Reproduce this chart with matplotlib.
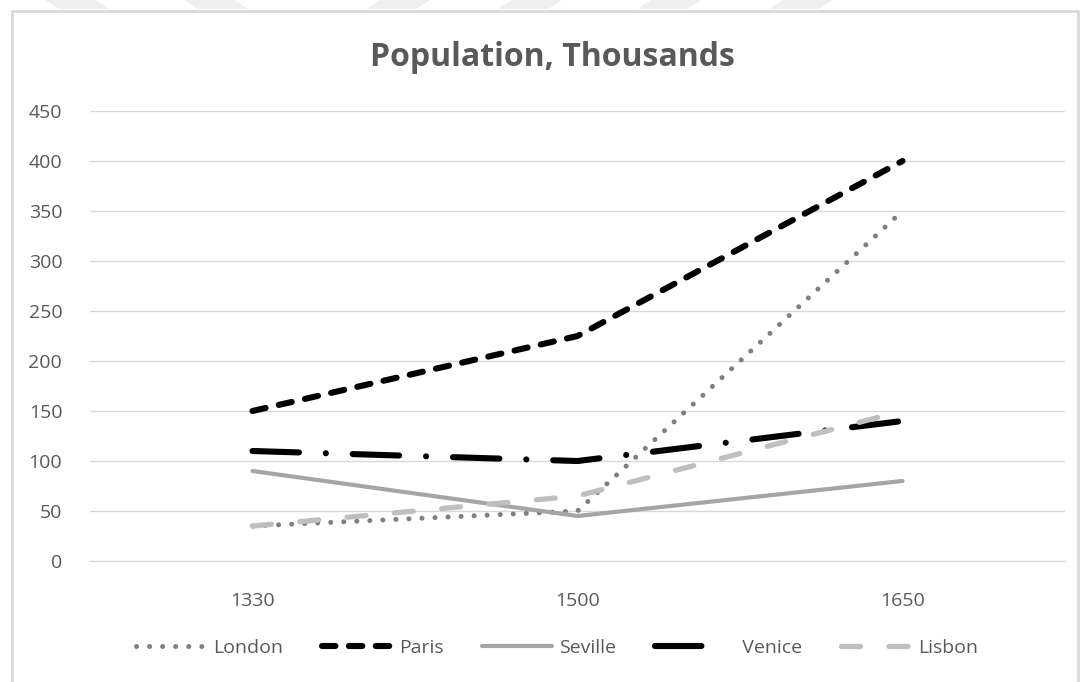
import matplotlib.pyplot as plt
from matplotlib.patches import Rectangle, Polygon

years = ["1330", "1500", "1650"]
london = [35, 50, 350]
paris = [150, 225, 400]
seville = [90, 45, 80]
venice = [110, 100, 140]
lisbon = [35, 65, 150]

plt.rcParams['font.family'] = ['Open Sans', 'DejaVu Sans']

W, H = 1083, 682
fig = plt.figure(figsize=(W / 100, H / 100), dpi=100)
ax = fig.add_axes([90 / W, 1 - 561 / H, 975 / W, 450 / H])

# chart border and faint stripes above it
fig.patches.append(Rectangle((12 / W, -0.01), 1066 / W, 1 - 11 / H + 0.01,
                             transform=fig.transFigure, fill=False,
                             edgecolor='#d9d9d9', linewidth=2))
for x0, d in [(45, 14), (184, 14), (380, -14), (512, -14), (651, -14), (783, -14)]:
    fig.patches.append(Polygon([((x0) / W, 1), ((x0 + 50) / W, 1),
                                ((x0 + 50 + d) / W, 1 - 9 / H), ((x0 + d) / W, 1 - 9 / H)],
                               closed=True, transform=fig.transFigure,
                               facecolor='#efefef', edgecolor='none'))

x = range(len(years))
ax.plot(x, london, color='#7f7f7f', lw=3.6, linestyle=(0, (0.01, 2.6)),
        dash_capstyle='round', label='London')
ax.plot(x, paris, color='black', lw=4.4, linestyle=(0, (2.2, 2.2)),
        dash_capstyle='round', label='Paris')
ax.plot(x, seville, color='#a5a5a5', lw=3.0, solid_capstyle='round', label='Seville')
ax.plot(x, venice, color='black', lw=4.4, linestyle=(0, (7.6, 4.4, 0.01, 4.4)),
        dash_capstyle='round', label='  Venice')
ax.plot(x, lisbon, color='#bfbfbf', lw=3.8, linestyle=(0, (3.6, 5.4)),
        dash_capstyle='round', label='Lisbon')

ax.set_xlim(-0.5, 2.5)
ax.set_ylim(0, 450)
ax.set_yticks(range(0, 451, 50))
ax.set_xticks(list(x))
ax.set_xticklabels(years)
ax.grid(axis='y', color='#d9d9d9', lw=1)
ax.set_axisbelow(True)
for s in ['top', 'right', 'left']:
    ax.spines[s].set_visible(False)
ax.spines['bottom'].set_color('#d9d9d9')
ax.tick_params(length=0, colors='#595959', labelsize=14)
ax.tick_params(axis='x', pad=22)
ax.tick_params(axis='y', pad=20)

fig.text(552 / W, 1 - 58 / H, "Population, Thousands", ha='center', va='center',
         fontsize=23, fontweight='bold', color='#595959')

leg = fig.legend(loc='center', bbox_to_anchor=(557 / W, 1 - 648 / H), ncol=5,
                 frameon=False, fontsize=14, handlelength=3.6, columnspacing=2.0,
                 handletextpad=0.35)
for t in leg.get_texts():
    t.set_color('#595959')

fig.savefig("out.png", dpi=100)
